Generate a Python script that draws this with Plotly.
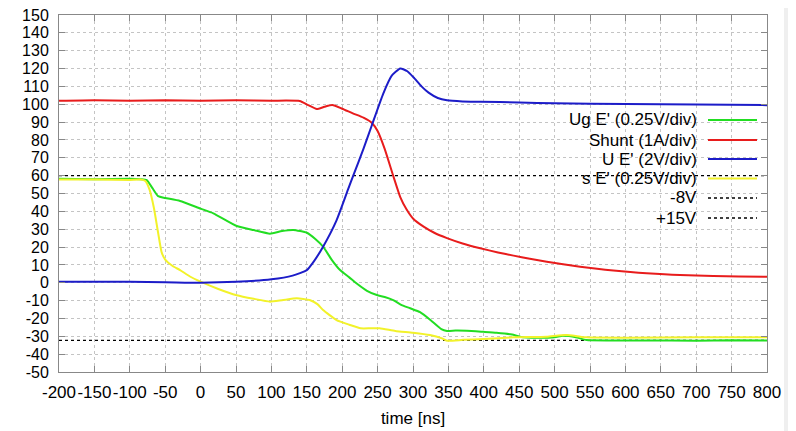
import plotly.graph_objects as go

# ---------------- data ----------------
t_ug = [-200, -150, -100, -85, -76, -68, -60, -50, -29, 0, 18, 51, 75, 98, 115, 131, 150, 162, 173, 185,
        197, 210, 220, 235, 249, 260, 272, 284, 296, 310, 325, 340, 348, 360, 376, 400, 418, 440, 451,
        475, 500, 512, 530, 545, 580, 630, 700, 750, 800]
v_ug = [58.2, 58.0, 58.2, 58.0, 57.5, 53.0, 48.5, 47.5, 45.8, 41.5, 38.9, 31.8, 29.5, 27.5, 29.0, 29.6,
        28.0, 24.5, 20.2, 13.0, 7.1, 3.0, -0.3, -4.5, -6.9, -8.0, -9.7, -12.5, -14.3, -16.5, -21.0,
        -26.0, -27.0, -26.8, -26.9, -27.5, -28.0, -29.0, -30.2, -30.8, -30.5, -29.7, -30.5, -32.1,
        -32.3, -32.3, -32.5, -32.2, -32.4]

t_shunt = [-200, -150, -100, -50, 0, 50, 100, 140, 152, 164, 175, 186, 200, 215, 230, 242, 250, 260,
           272, 282, 291, 300, 315, 330, 348, 370, 395, 420, 442, 465, 489, 512, 536, 560, 583, 607,
           630, 655, 677, 700, 724, 760, 800]
v_shunt = [102.0, 102.3, 102.0, 102.3, 102.0, 102.2, 102.0, 101.8, 99.5, 97.3, 98.6, 99.6, 97.5,
           94.9, 92.5, 89.5, 85.0, 75.0, 60.0, 48.0, 41.0, 36.0, 31.4, 28.0, 25.0, 22.0, 19.3, 17.0,
           15.2, 13.5, 11.8, 10.3, 9.0, 7.8, 6.8, 6.0, 5.3, 4.7, 4.3, 4.0, 3.8, 3.5, 3.3]

t_ue = [-200, -150, -100, -50, 0, 50, 100, 130, 150, 160, 173, 192, 208, 216, 230, 242, 258, 270,
        282, 292, 302, 312, 322, 335, 348, 370, 395, 450, 500, 600, 700, 800]
v_ue = [0.5, 0.5, 0.5, 0.3, 0.0, 0.5, 1.9, 4.0, 7.1, 12.0, 20.2, 35.0, 52.0, 60.4, 75.0, 88.4, 106.0,
        116.0, 120.0, 118.5, 114.5, 110.0, 106.5, 103.5, 102.2, 101.6, 101.4, 101.0, 100.5, 100.2,
        99.8, 99.5]

t_se = [-200, -150, -100, -85, -78, -72, -66, -60, -55, -50, -40, -29, -15, 0, 25, 51, 75, 98, 115,
        136, 154, 165, 173, 192, 210, 226, 240, 253, 275, 300, 324, 340, 348, 371, 400, 442, 489, 505,
        517, 530, 545, 600, 700, 800]
v_se = [57.8, 57.8, 57.6, 57.8, 57.0, 52.0, 42.0, 28.0, 17.0, 13.0, 9.5, 7.1, 3.5, 0.6, -3.5, -7.0,
        -9.0, -10.6, -9.8, -8.7, -9.7, -12.0, -15.3, -20.9, -23.5, -25.5, -25.5, -25.5, -27.0, -28.0,
        -29.3, -31.0, -32.5, -32.0, -31.5, -30.6, -30.2, -29.5, -29.3, -29.8, -30.6, -30.8, -30.6,
        -30.5]

t_ref = [-200, 800]
v_m8 = [-32.3, -32.3]
v_p15 = [60.0, 60.0]

names = ["Ug E' (0.25V/div)", "Shunt (1A/div)", "U E' (2V/div)", "s E' (0.25V/div)", "-8V", "+15V"]
colors = ["#22dd22", "#e81c1c", "#1c1cc8", "#f2f22a", "#000000", "#000000"]
dashes = ["solid", "solid", "solid", "solid", "dot", "dot"]

x_ticks = list(range(-200, 801, 50))
y_ticks = list(range(-50, 151, 10))

# ---------------- figure ----------------
# the page body adds an 8px margin, so the figure is placed at (8, 8) in the window
OFF = 8
W, H = 788, 423
L, R, T, B = 59 - OFF, 29, 15 - OFF, 59
PW, PH = W - L - R, H - T - B

series = [(t_ug, v_ug), (t_shunt, v_shunt), (t_ue, v_ue), (t_se, v_se), (t_ref, v_m8), (t_ref, v_p15)]

fig = go.Figure()
order = [4, 5, 1, 0, 3, 2]
for i in order:
    x, y = series[i]
    fig.add_trace(go.Scatter(
        x=x, y=y, mode="lines", name=names[i], showlegend=False,
        line=dict(color=colors[i], width=1.3 if dashes[i] == "dot" else 2, dash=dashes[i],
                  shape="spline", smoothing=0.5),
        hoverinfo="skip"))

font = "Liberation Sans, Arial, sans-serif"


def px_x(px):  # window pixel -> paper fraction
    return (px - OFF - L) / PW


def px_y(py):
    return (H - B - (py - OFF)) / PH


shapes = [
    dict(type="rect", xref="paper", yref="paper", x0=px_x(784), x1=px_x(900), y0=-1, y1=2,
         fillcolor="#efefef", line=dict(width=0), layer="below"),
]
annotations = []
leg_y = [120, 140, 159, 178.5, 198, 218]
for i, name in enumerate(names):
    annotations.append(dict(
        xref="paper", yref="paper", x=px_x(699), y=px_y(leg_y[i]), text=name, showarrow=False,
        xanchor="right", yanchor="middle", font=dict(family=font, size=17, color="#000")))
    shapes.append(dict(
        type="line", xref="paper", yref="paper", x0=px_x(708), x1=px_x(757),
        y0=px_y(leg_y[i]), y1=px_y(leg_y[i]),
        line=dict(color=colors[i], width=1.3 if dashes[i] == "dot" else 2, dash=dashes[i])))

axis_common = dict(
    showline=True, linecolor="#888888", linewidth=1, mirror="ticks",
    ticks="inside", ticklen=6, tickcolor="#888888", tickwidth=1,
    showgrid=True, gridcolor="#c4c4c4", griddash="dot", gridwidth=1,
    zeroline=False, ticklabeloverflow="allow", automargin=False,
)

fig.update_layout(
    width=W, height=H,
    margin=dict(l=L, r=R, t=T, b=B, autoexpand=False),
    paper_bgcolor="white", plot_bgcolor="white",
    shapes=shapes, annotations=annotations,
    xaxis=dict(range=[-200, 800], tickvals=x_ticks, ticktext=[str(v) for v in x_ticks],
               tickangle=0, ticklabelstandoff=5,
               tickfont=dict(family=font, size=17, color="#000"),
               title=dict(text="time [ns]", font=dict(family=font, size=17, color="#000"), standoff=10),
               **axis_common),
    yaxis=dict(range=[-50, 150], tickvals=y_ticks, ticktext=[str(v) for v in y_ticks],
               ticklabelstandoff=6, tickfont=dict(family=font, size=16, color="#000"),
               **axis_common),
    showlegend=False,
)

fig.write_html("out.html")
